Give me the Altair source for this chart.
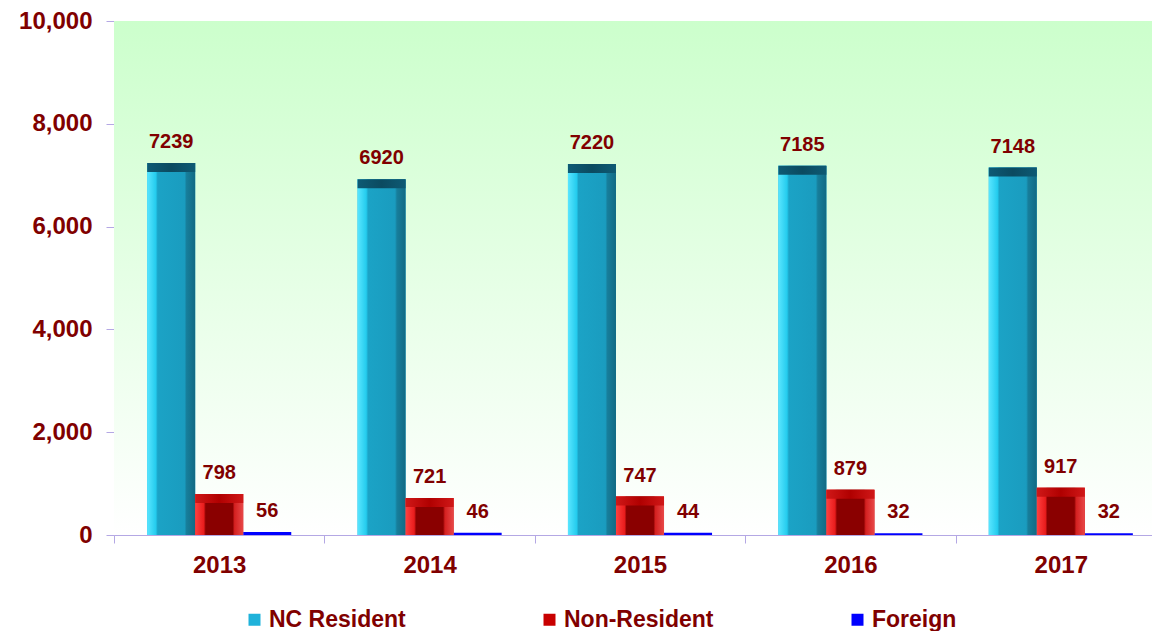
import altair as alt
import pandas as pd

years = ["2013", "2014", "2015", "2016", "2017"]
series = ["NC Resident", "Non-Resident", "Foreign"]
nc_resident = [7239, 6920, 7220, 7185, 7148]
non_resident = [798, 721, 747, 879, 917]
foreign = [56, 46, 44, 32, 32]
y_ticks = [0, 2000, 4000, 6000, 8000, 10000]

rows = []
for i, y in enumerate(years):
    rows.append({"year": y, "series": series[0], "value": nc_resident[i]})
    rows.append({"year": y, "series": series[1], "value": non_resident[i]})
    rows.append({"year": y, "series": series[2], "value": foreign[i]})
df = pd.DataFrame(rows)

FONT = "Liberation Sans"
DARK_RED = "#800000"
AXIS_COL = "#b4a8e4"
W, H = 1038, 514

def grad_h(stops):
    return alt.LinearGradient(
        gradient="linear", x1=0, x2=1, y1=0, y2=0,
        stops=[alt.GradientStop(color=c, offset=o) for o, c in stops])

x_enc = alt.X("year:N", sort=years, title=None,
              scale=alt.Scale(domain=years, range=[0, 1052], paddingInner=0, paddingOuter=0),
              axis=alt.Axis(labelAngle=0, tickBand="extent", labelFont=FONT, labelFontSize=24,
                            labelFontWeight="bold", labelColor=DARK_RED, labelPadding=10,
                            domainColor=AXIS_COL, tickColor=AXIS_COL, tickSize=8, grid=False))
xo_enc = alt.XOffset("series:N", sort=series,
                     scale=alt.Scale(domain=series, paddingInner=0, paddingOuter=0.69))
y_enc = alt.Y("value:Q", title=None,
              scale=alt.Scale(domain=[0, 10000], nice=False),
              axis=alt.Axis(values=y_ticks, format=",d", labelFont=FONT, labelFontSize=24,
                            labelFontWeight="bold", labelColor=DARK_RED, labelPadding=14,
                            domainColor=AXIS_COL, tickColor=AXIS_COL, tickSize=8, grid=False))

bg = alt.Chart(pd.DataFrame({"a": [0]})).mark_rect(
    color=alt.LinearGradient(gradient="linear", x1=0, x2=0, y1=0, y2=1,
                             stops=[alt.GradientStop(color="#ccffcc", offset=0),
                                    alt.GradientStop(color="#ffffff", offset=1)])
).encode(x=alt.value(0), x2=alt.value(1052), y=alt.value(0), y2=alt.value(H))

base = alt.Chart(df)

bars = base.mark_bar().encode(
    x=x_enc, xOffset=xo_enc, y=y_enc,
    color=alt.Color("series:N", sort=series,
                    scale=alt.Scale(domain=series, range=["#1fb2da", "#c80000", "#0000ff"]),
                    legend=alt.Legend(title=None, orient="none", direction="horizontal",
                                      legendX=129, legendY=587, symbolType="square",
                                      symbolSize=144, symbolStrokeWidth=0, symbolOpacity=1,
                                      labelFont=FONT, labelFontSize=23, labelFontWeight="bold",
                                      labelColor=DARK_RED, labelOffset=3, columnPadding=132,
                                      labelLimit=300)))

nc_grad = grad_h([(0, "#5ae6ff"), (0.18, "#24ccee"), (0.22, "#1ba3c6"), (0.78, "#1a9cbf"),
                  (0.82, "#177e9b"), (1, "#126a84")])
nr_grad = grad_h([(0, "#ff4040"), (0.18, "#e81c1c"), (0.22, "#8a0000"), (0.78, "#8a0000"),
                  (0.82, "#d42020"), (1, "#e84848")])

nc_bar = base.transform_filter(alt.datum.series == "NC Resident").mark_bar(color=nc_grad).encode(
    x=alt.X("year:N", sort=years), xOffset=alt.XOffset("series:N", sort=series), y="value:Q")
nr_bar = base.transform_filter(alt.datum.series == "Non-Resident").mark_bar(color=nr_grad).encode(
    x=alt.X("year:N", sort=years), xOffset=alt.XOffset("series:N", sort=series), y="value:Q")

nc_top = base.transform_filter(alt.datum.series == "NC Resident").mark_bar(
    color=grad_h([(0, "#0e5a74"), (0.5, "#0b4a60"), (1, "#0e5a74")]), y2Offset=9).encode(
    x=alt.X("year:N", sort=years), xOffset=alt.XOffset("series:N", sort=series),
    y="value:Q", y2="value:Q")
nr_top = base.transform_filter(alt.datum.series == "Non-Resident").mark_bar(
    color=grad_h([(0, "#d01818"), (0.5, "#b00000"), (1, "#d01818")]), y2Offset=9).encode(
    x=alt.X("year:N", sort=years), xOffset=alt.XOffset("series:N", sort=series),
    y="value:Q", y2="value:Q")

labels = base.mark_text(font=FONT, fontSize=20, fontWeight="bold", color=DARK_RED,
                        baseline="alphabetic", dy=-15).encode(
    x=alt.X("year:N", sort=years), xOffset=alt.XOffset("series:N", sort=series),
    y="value:Q", text=alt.Text("value:Q", format="d"))

chart = alt.layer(bg, bars, nc_bar, nr_bar, nc_top, nr_top, labels).properties(
    width=W, height=H,
    autosize=alt.AutoSizeParams(type="none"),
    padding={"left": 106, "top": 13, "right": 0, "bottom": 96},
).configure_view(stroke=None)

chart.save("out.html", embed_options={"renderer": "svg", "actions": False})
